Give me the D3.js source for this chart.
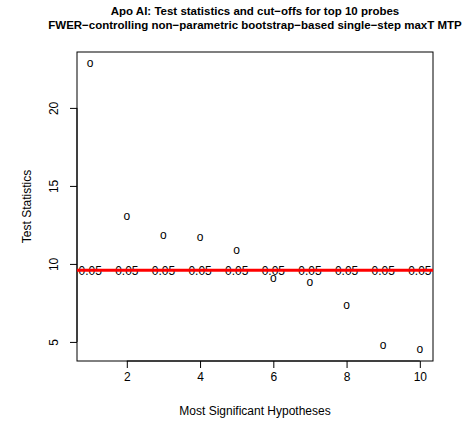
<!DOCTYPE html>
<html>
<head>
<meta charset="utf-8">
<script src="https://cdn.jsdelivr.net/npm/d3@7"></script>
<style>
html,body{margin:0;padding:0;background:#fff;}
svg{display:block;}
text{font-family:"Liberation Sans",Arial,Helvetica,sans-serif;}
</style>
</head>
<body>
<script>
const titleLines = ["Apo AI: Test statistics and cut\u2212offs for top 10 probes",
                    "FWER\u2212controlling non\u2212parametric bootstrap\u2212based single\u2212step maxT MTP"];
const xLabel = "Most Significant Hypotheses";
const yLabel = "Test Statistics";
const hypotheses = [1,2,3,4,5,6,7,8,9,10];
const testStats = [22.85,13.04,11.83,11.70,10.87,9.06,8.77,7.32,4.72,4.51];
const cutoffs = [9.60,9.60,9.60,9.60,9.60,9.60,9.60,9.60,9.60,9.60];
const cutoffLabels = ["0.05","0.05","0.05","0.05","0.05","0.05","0.05","0.05","0.05","0.05"];
const xTicks = [2,4,6,8,10];
const yTicks = [5,10,15,20];

const W = 466, H = 422;
const mL = 77, mR = 433, mT = 52, mB = 361;

const svg = d3.select("body").append("svg").attr("width", W).attr("height", H);

function padExt(arr){
  const e = d3.extent(arr); const p = (e[1]-e[0])*0.04; return [e[0]-p, e[1]+p];
}
const x = d3.scaleLinear().domain(padExt(hypotheses)).range([mL, mR]);
const y = d3.scaleLinear().domain(padExt(testStats.concat(cutoffs))).range([mB, mT]);

// titles
svg.selectAll("text.title").data(titleLines).enter().append("text")
  .attr("class","title")
  .attr("x", (mL+mR)/2)
  .attr("y", (d,i)=> 15 + i*14)
  .attr("text-anchor","middle")
  .attr("font-weight","bold")
  .attr("font-size", 11.5)
  .attr("fill","#000")
  .text(d=>d);

// axes
const xAxis = d3.axisBottom(x).tickValues(xTicks).tickSize(7).tickPadding(4).tickFormat(d3.format("d"));
const gx = svg.append("g").attr("transform", `translate(0,${mB})`).call(xAxis);
gx.select(".domain").attr("d", `M${x(xTicks[0])},0H${x(xTicks[xTicks.length-1])}`);
gx.selectAll("text").attr("font-size",12).attr("font-family",null).attr("fill","#000").attr("dy","0.71em");

const yAxis = d3.axisLeft(y).tickValues(yTicks).tickSize(7).tickFormat(d3.format("d"));
const gy = svg.append("g").attr("transform", `translate(${mL},0)`).call(yAxis);
gy.select(".domain").attr("d", `M0,${y(yTicks[0])}V${y(yTicks[yTicks.length-1])}`);
gy.selectAll(".tick text")
  .attr("font-size",12).attr("font-family",null).attr("fill","#000")
  .attr("x", null).attr("dy", null)
  .attr("transform", "translate(-23,0) rotate(-90)")
  .attr("text-anchor","middle")
  .attr("dominant-baseline","central");

// box
svg.append("rect").attr("x", mL).attr("y", mT).attr("width", mR-mL).attr("height", mB-mT)
  .attr("fill","none").attr("stroke","#000").attr("stroke-width",1);

// axis labels
svg.append("text").attr("x",(mL+mR)/2).attr("y", 415).attr("text-anchor","middle")
  .attr("font-size",12).attr("fill","#000").text(xLabel);
svg.append("text").attr("transform", `translate(31,${(mT+mB)/2}) rotate(-90)`)
  .attr("text-anchor","middle").attr("font-size",12).attr("fill","#000").text(yLabel);

// points as "o"
svg.selectAll("text.pt").data(hypotheses).enter().append("text")
  .attr("class","pt")
  .attr("x", d=>x(d))
  .attr("y", (d,i)=> y(testStats[i]) + 3.2)
  .attr("text-anchor","middle")
  .attr("font-size",12)
  .attr("fill","#000")
  .text("o");

// cutoff labels
svg.selectAll("text.cut").data(hypotheses).enter().append("text")
  .attr("class","cut")
  .attr("x", d=>x(d))
  .attr("y", (d,i)=> y(cutoffs[i]) + 4.4)
  .attr("text-anchor","middle")
  .attr("font-size",12)
  .attr("fill","#000")
  .text((d,i)=>cutoffLabels[i]);

// cutoff line
svg.append("path")
  .attr("d", d3.line().x(d=>d[0]).y(d=>d[1])([[mL, y(cutoffs[0])],[mR, y(cutoffs[cutoffs.length-1])]]))
  .attr("stroke","#ff0000").attr("stroke-width",3).attr("fill","none");
</script>
</body>
</html>
